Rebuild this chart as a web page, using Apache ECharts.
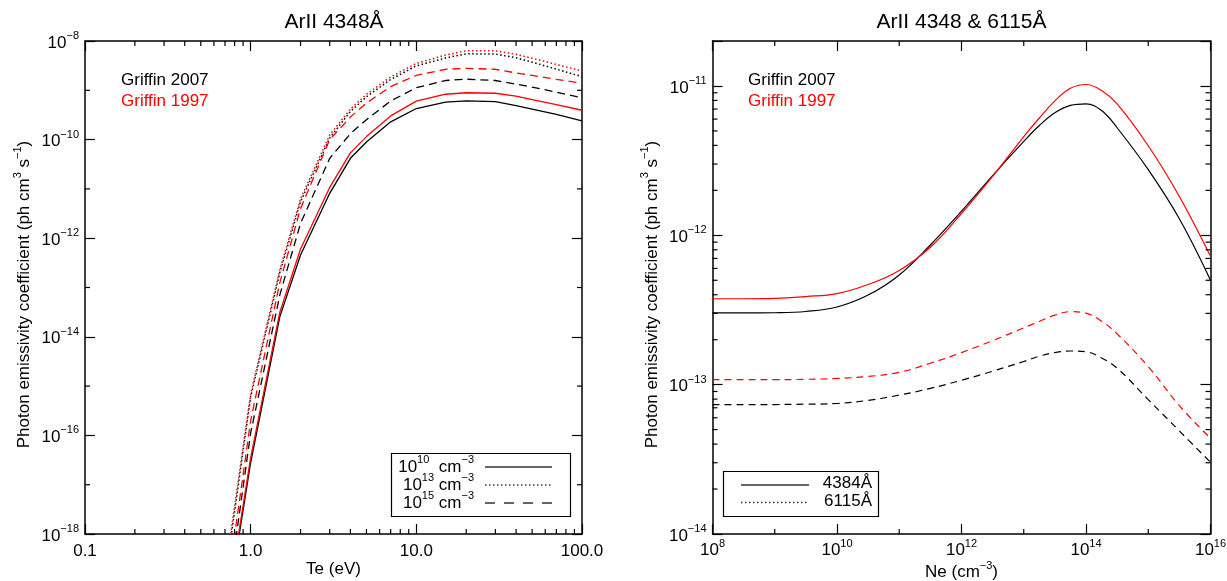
<!DOCTYPE html>
<html>
<head>
<meta charset="utf-8">
<script src="https://cdn.jsdelivr.net/npm/echarts@6/dist/echarts.min.js"></script>
<style>html,body{margin:0;padding:0;background:#fff}#c{width:1227px;height:581px}</style>
</head>
<body>
<div id="c"></div>
<script>
// ---------------- DATA ----------------
// Left panel: ArII 4348A PEC vs Te (eV)
const teValues = [0.7, 1, 1.5, 2, 3, 4, 5, 7, 10, 15, 20, 30, 40, 50, 70, 100];
const g2007_ne1e10 = [1.48e-20, 2.82e-17, 2.57e-14, 4.57e-13, 8.13e-12, 4.17e-11, 8.91e-11, 2.29e-10, 4.27e-10, 5.75e-10, 6.10e-10, 5.89e-10, 4.90e-10, 4.17e-10, 3.24e-10, 2.40e-10];
const g1997_ne1e10 = [1.82e-20, 3.55e-17, 3.16e-14, 6.03e-13, 1.07e-11, 5.37e-11, 1.15e-10, 3.02e-10, 6.03e-10, 8.32e-10, 8.91e-10, 8.71e-10, 7.59e-10, 6.46e-10, 5.13e-10, 3.94e-10];
const g2007_ne1e13 = [1.17e-19, 6.03e-16, 2.00e-13, 5.50e-12, 1.08e-10, 3.72e-10, 7.41e-10, 1.66e-9, 3.13e-9, 4.52e-9, 5.50e-9, 5.43e-9, 4.57e-9, 3.72e-9, 2.69e-9, 1.89e-9];
const g1997_ne1e13 = [1.58e-19, 6.92e-16, 2.29e-13, 6.31e-12, 1.24e-10, 4.17e-10, 8.32e-10, 1.87e-9, 3.51e-9, 5.19e-9, 6.31e-9, 6.31e-9, 5.37e-9, 4.47e-9, 3.35e-9, 2.47e-9];
const g2007_ne1e15 = [2.14e-20, 1.12e-16, 7.08e-14, 2.00e-12, 4.17e-11, 1.32e-10, 2.54e-10, 6.07e-10, 1.13e-9, 1.58e-9, 1.68e-9, 1.58e-9, 1.33e-9, 1.16e-9, 9.20e-10, 7.00e-10];
const g1997_ne1e15 = [3.80e-20, 2.00e-16, 1.26e-13, 3.98e-12, 1.00e-10, 2.86e-10, 5.50e-10, 1.19e-9, 2.01e-9, 2.67e-9, 2.78e-9, 2.67e-9, 2.25e-9, 2.00e-9, 1.67e-9, 1.39e-9];

// Right panel: ArII 4348 & 6115A PEC vs Ne (cm^-3)
const neValues = [1e8, 3.16e8, 1e9, 3.16e9, 1e10, 3.16e10, 1e11, 3.16e11, 1e12, 3.16e12, 1e13, 1.78e13, 3.16e13, 5.62e13, 1e14, 1.78e14, 3.16e14, 1e15, 3.16e15, 1e16];
const g2007_4348 = [3.02e-13, 3.02e-13, 3.03e-13, 3.09e-13, 3.31e-13, 3.98e-13, 5.43e-13, 8.61e-13, 1.45e-12, 2.51e-12, 4.25e-12, 5.43e-12, 6.61e-12, 7.41e-12, 7.59e-12, 6.84e-12, 5.25e-12, 2.75e-12, 1.29e-12, 5.01e-13];
const g1997_4348 = [3.76e-13, 3.76e-13, 3.78e-13, 3.89e-13, 4.07e-13, 4.68e-13, 5.82e-13, 8.32e-13, 1.40e-12, 2.48e-12, 4.58e-12, 6.10e-12, 7.94e-12, 9.66e-12, 1.023e-11, 9.33e-12, 7.59e-12, 3.98e-12, 1.82e-12, 7.24e-13];
const g2007_6115 = [7.35e-14, 7.35e-14, 7.36e-14, 7.40e-14, 7.48e-14, 7.85e-14, 8.51e-14, 9.44e-14, 1.07e-13, 1.23e-13, 1.43e-13, 1.55e-13, 1.64e-13, 1.68e-13, 1.66e-13, 1.51e-13, 1.29e-13, 7.94e-14, 4.90e-14, 3.02e-14];
const g1997_6115 = [1.08e-13, 1.08e-13, 1.08e-13, 1.086e-13, 1.10e-13, 1.135e-13, 1.21e-13, 1.39e-13, 1.64e-13, 1.97e-13, 2.40e-13, 2.65e-13, 2.92e-13, 3.08e-13, 3.01e-13, 2.66e-13, 2.19e-13, 1.32e-13, 7.24e-14, 4.37e-14];

// Axis ranges and tick labels
const teRange = [0.1, 100];
const teTickLabels = ['0.1', '1.0', '10.0', '100.0'];
const leftPecRange = [1e-18, 1e-8];
const leftPecTickExp = [-18, -16, -14, -12, -10, -8];
const neRange = [1e8, 1e16];
const neTickExp = [8, 10, 12, 14, 16];
const rightPecRange = [1e-14, 2e-11];
const rightPecTickExp = [-14, -13, -12, -11];

// ---------------- HELPERS ----------------
const FONT = '"Liberation Sans", Arial, Helvetica, sans-serif';
const FS = 17;
const L = Math.log10;
const supRich = {
  b: { fontFamily: FONT, fontSize: FS, color: '#000', lineHeight: 21, verticalAlign: 'bottom' },
  s: { fontFamily: FONT, fontSize: 11, color: '#000', lineHeight: 12, verticalAlign: 'top' }
};
function expStr(e) { return e < 0 ? '\u2212' + (-e) : String(e); }
function powLabel(list) {
  return function (v) {
    const r = Math.round(v);
    if (Math.abs(v - r) > 1e-6 || list.indexOf(r) < 0) return '';
    return '{b|10}{s|' + expStr(r) + '}';
  };
}
function axisBase(extra) {
  return Object.assign({
    type: 'value',
    nameMoveOverlap: false,
    splitLine: { show: false },
    axisLine: { show: true, onZero: false, lineStyle: { color: '#000', width: 1.5 } },
    axisTick: { show: true, inside: true, length: 10, lineStyle: { color: '#000', width: 1.2 } },
    axisLabel: { show: false }
  }, extra);
}
function curve(name, xs, ys, color, type, ai, smooth, width) {
  return {
    name: name, type: 'line', xAxisIndex: ai, yAxisIndex: ai,
    data: xs.map(function (x, i) { return [L(x), L(ys[i])]; }),
    showSymbol: false, symbol: 'none', smooth: smooth, animation: false, z: 3,
    lineStyle: { color: color, width: width, type: type }
  };
}
function minorTicks(ai, dim, vals, lo, hi, len) {
  return {
    type: 'custom', xAxisIndex: ai, yAxisIndex: ai, silent: true, animation: false, z: 10,
    data: vals.map(function (v) { return dim === 'x' ? [v, lo] : [lo, v]; }),
    renderItem: function (params, api) {
      const st = { stroke: '#000', lineWidth: 1.2 };
      if (dim === 'x') {
        const v = api.value(0);
        const a = api.coord([v, lo]), b = api.coord([v, hi]);
        return { type: 'group', children: [
          { type: 'line', shape: { x1: a[0], y1: a[1], x2: a[0], y2: a[1] - len }, style: st },
          { type: 'line', shape: { x1: b[0], y1: b[1], x2: b[0], y2: b[1] + len }, style: st }
        ] };
      }
      const v = api.value(1);
      const a = api.coord([lo, v]), b = api.coord([hi, v]);
      return { type: 'group', children: [
        { type: 'line', shape: { x1: a[0], y1: a[1], x2: a[0] + len, y2: a[1] }, style: st },
        { type: 'line', shape: { x1: b[0], y1: b[1], x2: b[0] - len, y2: b[1] }, style: st }
      ] };
    }
  };
}
function logMinor(d0, d1, maxLog) {
  const out = [];
  for (let d = d0; d <= d1; d++) for (let k = 2; k <= 9; k++) {
    const v = L(k) + d;
    if (v < maxLog - 1e-9) out.push(v);
  }
  return out;
}

// log-space extents
const teX = [L(teRange[0]), L(teRange[1])];
const lY = [L(leftPecRange[0]), L(leftPecRange[1])];
const neX = [L(neRange[0]), L(neRange[1])];
const rY = [L(rightPecRange[0]), L(rightPecRange[1])];

const chart = echarts.init(document.getElementById('c'), null, { renderer: 'canvas', width: 1227, height: 581 });

const yName = '{b|Photon emissivity coefficient (ph cm}{s|3}{b| s}{s|\u22121}{b|)}';

const option = {
  animation: false,
  backgroundColor: '#fff',
  textStyle: { fontFamily: FONT },
  grid: [
    { left: 85, top: 41, width: 497, height: 493, containLabel: false, outerBoundsMode: 'none' },
    { left: 712.5, top: 41, width: 498, height: 493, containLabel: false, outerBoundsMode: 'none' }
  ],
  xAxis: [
    axisBase({ gridIndex: 0, position: 'bottom', min: teX[0], max: teX[1], interval: 1,
      axisLabel: { show: true, color: '#000', fontFamily: FONT, fontSize: FS, margin: 9,
        formatter: function (v) { const i = Math.round(v) - Math.round(teX[0]); return (Math.abs(v - Math.round(v)) < 1e-6 && teTickLabels[i]) ? teTickLabels[i] : ''; } },
      name: 'Te (eV)', nameLocation: 'middle', nameGap: 27,
      nameTextStyle: { fontFamily: FONT, fontSize: FS, color: '#000' } }),
    axisBase({ gridIndex: 0, position: 'top', min: teX[0], max: teX[1], interval: 1 }),
    axisBase({ gridIndex: 1, position: 'bottom', min: neX[0], max: neX[1], interval: 2,
      axisLabel: { show: true, margin: 4, formatter: powLabel(neTickExp), rich: supRich },
      name: '{b|Ne (cm}{s|\u22123}{b|)}', nameLocation: 'middle', nameGap: 26,
      nameTextStyle: { rich: supRich } }),
    axisBase({ gridIndex: 1, position: 'top', min: neX[0], max: neX[1], interval: 2 })
  ],
  yAxis: [
    axisBase({ gridIndex: 0, position: 'left', min: lY[0], max: lY[1], interval: 2,
      axisLabel: { show: true, margin: 6, formatter: powLabel(leftPecTickExp), rich: supRich },
      name: yName, nameLocation: 'middle', nameGap: 52,
      nameTextStyle: { rich: supRich, padding: [0, 14, 0, 0] } }),
    axisBase({ gridIndex: 0, position: 'right', min: lY[0], max: lY[1], interval: 2 }),
    axisBase({ gridIndex: 1, position: 'left', min: rY[0], max: rY[1], interval: 1,
      axisLabel: { show: true, margin: 6, formatter: powLabel(rightPecTickExp), rich: supRich },
      name: yName, nameLocation: 'middle', nameGap: 52,
      nameTextStyle: { rich: supRich, padding: [0, 14, 0, 0] } }),
    axisBase({ gridIndex: 1, position: 'right', min: rY[0], max: rY[1], interval: 1 })
  ],
  series: [
    // left panel
    curve('Griffin 2007 1e10', teValues, g2007_ne1e10, '#000', 'solid', 0, false, 1.3),
    curve('Griffin 2007 1e13', teValues, g2007_ne1e13, '#000', [1.5, 2.5], 0, false, 1.5),
    curve('Griffin 2007 1e15', teValues, g2007_ne1e15, '#000', [8, 5], 0, false, 1.3),
    curve('Griffin 1997 1e10', teValues, g1997_ne1e10, '#ff0000', 'solid', 0, false, 1.3),
    curve('Griffin 1997 1e13', teValues, g1997_ne1e13, '#ff0000', [1.5, 2.5], 0, false, 1.5),
    curve('Griffin 1997 1e15', teValues, g1997_ne1e15, '#ff0000', [8, 5], 0, false, 1.3),
    // right panel
    curve('Griffin 2007 4348', neValues, g2007_4348, '#000', 'solid', 2, 0.4, 1.2),
    curve('Griffin 2007 6115', neValues, g2007_6115, '#000', [7, 5], 2, 0.4, 1.2),
    curve('Griffin 1997 4348', neValues, g1997_4348, '#ff0000', 'solid', 2, 0.4, 1.2),
    curve('Griffin 1997 6115', neValues, g1997_6115, '#ff0000', [7, 5], 2, 0.4, 1.2),
    // minor ticks
    minorTicks(0, 'x', logMinor(-1, 1, 2), lY[0], lY[1], 5),
    minorTicks(0, 'y', [-17, -15, -13, -11, -9], teX[0], teX[1], 5),
    minorTicks(2, 'x', [9, 11, 13, 15], rY[0], rY[1], 5),
    minorTicks(2, 'y', logMinor(-14, -11, rY[1]), neX[0], neX[1], 5)
  ],
  graphic: [
    { type: 'text', x: 334, y: 22, style: { text: 'ArII 4348\u00C5', font: '21px ' + FONT, fill: '#000', align: 'center', verticalAlign: 'middle', textAlign: 'center', textVerticalAlign: 'middle' } },
    { type: 'text', x: 961.5, y: 22, style: { text: 'ArII 4348 & 6115\u00C5', font: '21px ' + FONT, fill: '#000', align: 'center', verticalAlign: 'middle', textAlign: 'center', textVerticalAlign: 'middle' } },
    { type: 'text', x: 121, y: 80, style: { text: 'Griffin 2007', font: FS + 'px ' + FONT, fill: '#000', verticalAlign: 'middle', textVerticalAlign: 'middle' } },
    { type: 'text', x: 121, y: 101, style: { text: 'Griffin 1997', font: FS + 'px ' + FONT, fill: '#ff0000', verticalAlign: 'middle', textVerticalAlign: 'middle' } },
    { type: 'text', x: 748, y: 80, style: { text: 'Griffin 2007', font: FS + 'px ' + FONT, fill: '#000', verticalAlign: 'middle', textVerticalAlign: 'middle' } },
    { type: 'text', x: 748, y: 101, style: { text: 'Griffin 1997', font: FS + 'px ' + FONT, fill: '#ff0000', verticalAlign: 'middle', textVerticalAlign: 'middle' } },
    // left legend box
    { type: 'rect', shape: { x: 391.5, y: 453.5, width: 179, height: 63 }, style: { fill: '#fff', stroke: '#000', lineWidth: 1.2 }, z: 20 },
    { type: 'text', x: 474, y: 465, z: 21, style: { text: '{b|10}{s|10}{b|  cm}{s|\u22123}', rich: supRich, align: 'right', verticalAlign: 'middle', textAlign: 'right', textVerticalAlign: 'middle' } },
    { type: 'text', x: 474, y: 483, z: 21, style: { text: '{b|10}{s|13}{b| cm}{s|\u22123}', rich: supRich, align: 'right', verticalAlign: 'middle', textAlign: 'right', textVerticalAlign: 'middle' } },
    { type: 'text', x: 474, y: 501, z: 21, style: { text: '{b|10}{s|15}{b| cm}{s|\u22123}', rich: supRich, align: 'right', verticalAlign: 'middle', textAlign: 'right', textVerticalAlign: 'middle' } },
    { type: 'line', z: 21, shape: { x1: 485, y1: 467, x2: 552, y2: 467 }, style: { stroke: '#333', lineWidth: 1.3 } },
    { type: 'line', z: 21, shape: { x1: 485, y1: 485, x2: 552, y2: 485 }, style: { stroke: '#333', lineWidth: 1.3, lineDash: [1.5, 2.5] } },
    { type: 'line', z: 21, shape: { x1: 485, y1: 503, x2: 552, y2: 503 }, style: { stroke: '#333', lineWidth: 1.3, lineDash: [10, 9] } },
    // right legend box
    { type: 'rect', shape: { x: 723.5, y: 471.5, width: 155, height: 45 }, style: { fill: '#fff', stroke: '#000', lineWidth: 1.2 }, z: 20 },
    { type: 'line', z: 21, shape: { x1: 741, y1: 485, x2: 809, y2: 485 }, style: { stroke: '#333', lineWidth: 1.3 } },
    { type: 'line', z: 21, shape: { x1: 741, y1: 502.5, x2: 809, y2: 502.5 }, style: { stroke: '#333', lineWidth: 1.3, lineDash: [1.5, 2.5] } },
    { type: 'text', x: 872, y: 483, z: 21, style: { text: '4384\u00C5', font: FS + 'px ' + FONT, fill: '#000', align: 'right', verticalAlign: 'middle', textAlign: 'right', textVerticalAlign: 'middle' } },
    { type: 'text', x: 872, y: 501, z: 21, style: { text: '6115\u00C5', font: FS + 'px ' + FONT, fill: '#000', align: 'right', verticalAlign: 'middle', textAlign: 'right', textVerticalAlign: 'middle' } }
  ]
};
chart.setOption(option);
</script>
</body>
</html>
